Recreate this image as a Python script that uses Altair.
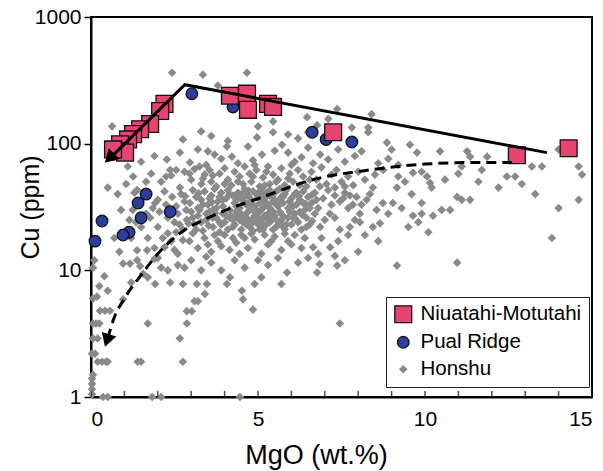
import altair as alt
import pandas as pd

# ---- data (MgO wt.%, Cu ppm) ----
niuatahi_mgo = [2.2, 2.07, 1.77, 1.47, 1.26, 1.11, 0.87, 0.81, 1.02, 0.66,
                4.16, 4.67, 4.70, 5.30, 5.45, 7.25, 12.75, 14.3]
niuatahi_cu = [206, 181, 143, 130, 119, 108, 99, 87, 85, 90,
               239, 248, 185, 206, 195, 123, 81, 92]

pual_mgo = [3.02, 4.25, 6.62, 7.04, 7.81, 1.65, 1.41, 1.50, 2.37, 0.33, 1.14, 0.96, 0.12]
pual_cu = [248, 195, 123, 108, 103, 40, 34, 26, 29, 24.5, 20, 19, 17]

honshu = [
    # outliers above the main cloud
    (2.43, 363), (3.35, 350), (4.67, 363), (3.8, 288), (0.63, 137), (5.0, 137),
    (5.45, 150), (5.45, 123), (4.97, 112), (6.47, 162), (6.5, 123), (7.1, 157),
    (7.37, 188), (7.81, 134), (8.3, 134), (8.4, 171), (8.3, 123), (6.77, 140),
    (2.75, 108), (3.6, 115), (4.1, 105), (5.9, 118), (6.2, 110), (3.3, 125),
    # 45-100 ppm
    (1.1, 66), (1.5, 72), (1.9, 80), (2.27, 75), (2.37, 62), (2.66, 85), (2.96, 71),
    (3.2, 90), (3.5, 87), (3.7, 82), (3.45, 68), (3.9, 76), (4.07, 95), (4.22, 79),
    (4.4, 70), (4.7, 95), (4.85, 74), (5.12, 82), (5.3, 66), (5.5, 88), (5.72, 98),
    (5.9, 85), (6.1, 72), (6.3, 78), (6.5, 93), (6.65, 70), (6.86, 82), (7.1, 75),
    (7.4, 90), (7.6, 72), (7.9, 80), (8.1, 87), (8.6, 70), (8.9, 76), (9.2, 68),
    (9.55, 98), (9.76, 85), (9.0, 90), (8.86, 102), (10.45, 87), (11.26, 87),
    (11.35, 79), (11.86, 79), (11.1, 66), (11.7, 62), (13.2, 66), (13.5, 66),
    (14.0, 90), (14.6, 66), (14.7, 57), (12.45, 55), (12.7, 55), (10.06, 55),
    (9.64, 59), (9.2, 55), (10.15, 49), (10.2, 45), (9.16, 45), (8.44, 45),
    (1.26, 55), (1.38, 43), (1.3, 41), (1.8, 58), (2.1, 50), (2.4, 56), (2.66, 45),
    (2.8, 60), (3.0, 52), (3.1, 63), (3.3, 48), (3.4, 57), (3.55, 62), (3.6, 50),
    (3.75, 46), (3.85, 58), (4.0, 64), (4.1, 52), (4.2, 47), (4.3, 60), (4.45, 55),
    (4.55, 48), (4.6, 66), (4.75, 58), (4.8, 50), (4.95, 62), (5.05, 46), (5.15, 54),
    (5.25, 60), (5.35, 48), (5.45, 57), (5.6, 52), (5.7, 64), (5.8, 47), (5.95, 58),
    (6.05, 50), (6.2, 62), (6.35, 55), (6.45, 46), (6.6, 60), (6.75, 52), (6.9, 65),
    (7.05, 48), (7.2, 57), (7.35, 62), (7.5, 50), (7.7, 55), (7.85, 47), (8.0, 60),
    (8.2, 52), (8.5, 57), (8.75, 62), (9.4, 50), (9.9, 60), (10.6, 52), (11.0, 58),
    (3.25, 66), (4.9, 68), (6.0, 68), (4.0, 48), (4.4, 50), (4.85, 55), (5.2, 47),
    (5.55, 50), (5.9, 53), (6.25, 47), (6.55, 52), (6.85, 46), (7.3, 45), (7.6, 46),
    (12.2, 45), (12.9, 48), (13.3, 40), (11.6, 50), (3.65, 56), (3.35, 53), (2.95, 58),
    (2.55, 62), (2.25, 55), (1.65, 50), (1.05, 48), (0.8, 40), (0.5, 45),
    # 30-45 ppm (dense)
    (1.6, 40), (1.92, 34), (2.0, 36), (2.2, 42), (2.43, 38), (2.55, 32), (2.7, 40),
    (2.8, 35), (2.96, 34), (3.05, 43), (3.15, 38), (3.2, 31), (3.3, 36), (3.4, 42),
    (3.5, 33), (3.6, 39), (3.65, 30), (3.7, 44), (3.8, 35), (3.9, 41), (3.95, 32),
    (4.05, 37), (4.1, 43), (4.15, 30), (4.25, 39), (4.3, 34), (4.4, 41), (4.45, 31),
    (4.5, 37), (4.6, 44), (4.65, 33), (4.7, 39), (4.75, 30), (4.8, 36), (4.85, 42),
    (4.9, 32), (5.0, 38), (5.05, 34), (5.1, 44), (5.15, 31), (5.2, 37), (5.25, 41),
    (5.3, 33), (5.35, 39), (5.4, 30), (5.5, 36), (5.55, 42), (5.6, 32), (5.7, 38),
    (5.75, 34), (5.85, 43), (5.9, 31), (6.0, 37), (6.1, 40), (6.15, 33), (6.25, 36),
    (6.35, 42), (6.4, 30), (6.5, 38), (6.6, 34), (6.7, 41), (6.8, 31), (6.95, 37),
    (7.1, 43), (7.2, 33), (7.3, 39), (7.45, 35), (7.6, 41), (7.84, 33), (7.7, 31),
    (7.95, 38), (8.05, 28), (8.25, 36), (8.74, 34), (9.04, 34), (9.9, 34), (9.6, 40),
    (10.96, 38), (11.1, 36), (11.35, 36), (14.0, 31), (14.6, 36), (4.55, 35), (4.95, 40),
    (5.45, 35), (5.8, 40), (4.35, 36), (3.85, 38), (5.65, 44), (6.05, 32),
    (3.35, 33), (3.55, 37), (3.75, 31), (3.95, 36), (4.15, 40), (4.35, 32), (4.55, 41),
    (4.75, 35), (4.95, 30), (5.15, 36), (5.35, 43), (5.55, 33), (5.75, 38), (5.95, 35),
    (6.15, 41), (6.35, 34), (6.55, 31), (6.75, 36), (2.25, 33), (1.85, 31), (1.45, 34),
    (1.25, 30), (7.55, 37), (7.75, 39), (8.1, 33), (8.35, 40), (8.55, 30), (9.3, 31),
    (0.9, 30), (4.62, 38.5), (4.82, 33.5), (5.02, 41), (5.22, 34.5), (5.42, 38.5),
    (5.62, 35.5), (5.12, 39.5), (4.72, 42.5), (5.32, 31.5), (4.42, 38.5), (3.62, 34.5),
    (3.22, 40.5), (2.82, 38.5), (6.22, 38.5), (6.42, 33.5), (6.62, 39.5),
    # 20-30 ppm (dense)
    (1.5, 22), (1.77, 26), (2.0, 22), (2.3, 26), (2.3, 19.6), (2.5, 24), (2.6, 28),
    (2.75, 21), (2.87, 25), (3.0, 29), (3.1, 23), (3.2, 27), (3.35, 20.5), (3.45, 25),
    (3.55, 29), (3.65, 22), (3.75, 26), (3.85, 20), (3.95, 28), (4.0, 24), (4.1, 21),
    (4.2, 27), (4.3, 23), (4.35, 29), (4.45, 25), (4.5, 21), (4.6, 27), (4.65, 23),
    (4.7, 29), (4.8, 25), (4.85, 20.5), (4.9, 27), (5.0, 23), (5.05, 29), (5.1, 25),
    (5.15, 21), (5.2, 27), (5.25, 23), (5.3, 28), (5.4, 25), (5.45, 21), (5.5, 27),
    (5.6, 23), (5.65, 29), (5.7, 25), (5.8, 21), (5.9, 26), (6.0, 23), (6.1, 28),
    (6.2, 24), (6.3, 21), (6.45, 26), (6.55, 23), (6.7, 28), (6.86, 22), (7.0, 25),
    (7.15, 28), (7.45, 21), (7.75, 22), (7.9, 25), (8.05, 24), (8.44, 22), (8.65, 23.5),
    (9.64, 27), (10.24, 27), (10.5, 30), (10.75, 30), (9.9, 28), (4.95, 26), (5.35, 24),
    (4.55, 24), (5.75, 27), (4.25, 25), (5.55, 22), (4.75, 22), (5.95, 29), (4.15, 26),
    (3.3, 24), (3.9, 23), (4.05, 27), (4.25, 22), (4.45, 28), (4.65, 26), (4.85, 24),
    (5.05, 21), (5.25, 26), (5.45, 29), (5.65, 24), (5.85, 23), (6.05, 26), (6.25, 29),
    (6.45, 22), (3.45, 28), (3.65, 26), (3.85, 24), (3.25, 30), (3.05, 26), (2.85, 30),
    (2.65, 23), (2.45, 29), (2.05, 29), (1.65, 28), (1.15, 25), (1.35, 24), (8.9, 28),
    (9.5, 22), (9.8, 24), (4.92, 28.5), (5.12, 23.5), (5.32, 27.5), (5.52, 25.5),
    (4.72, 24.5), (4.52, 27.5), (5.72, 22.5), (5.02, 25.5), (4.32, 26.5), (3.72, 28.5),
    (3.52, 22.5), (2.92, 23.5), (6.12, 25.5), (6.32, 27.5), (6.62, 24.5), (7.3, 26),
    # 13-20 ppm
    (1.2, 18), (1.38, 14.4), (1.68, 14.4), (1.7, 18), (1.9, 15), (2.2, 15.2), (2.4, 17),
    (2.6, 13.5), (2.75, 17.3), (3.05, 19.6), (3.2, 15), (3.4, 18), (3.6, 14), (3.8, 17),
    (4.0, 19), (4.15, 14.5), (4.35, 16.5), (4.5, 19), (4.7, 15), (4.9, 17.5), (5.1, 13.5),
    (5.3, 16), (5.5, 18.5), (5.7, 14.5), (5.9, 17), (6.1, 19), (6.3, 15), (6.65, 15.2),
    (6.9, 18), (7.16, 15.2), (7.4, 17), (7.7, 19), (8.0, 14), (13.8, 18), (4.6, 18),
    (5.2, 19), (3.9, 15.5), (2.15, 18), (2.55, 20), (2.95, 17), (3.15, 21), (3.5, 16),
    (3.7, 19), (4.25, 18), (4.8, 19.5), (5.4, 17), (5.8, 19.5), (6.0, 16), (6.4, 18),
    (6.8, 13.5), (7.3, 13), (2.5, 14.5), (8.2, 19), (8.6, 17), (10.1, 20), (0.7, 18),
    (0.85, 14),
    # 8-13 ppm
    (0.96, 11.3), (1.17, 11.3), (1.38, 12), (1.47, 10.8), (1.56, 9.4), (1.7, 8.8),
    (1.92, 7.8), (2.0, 12.5), (2.1, 10.5), (2.3, 10), (2.37, 8), (2.75, 7.8), (2.6, 11),
    (3.0, 12), (3.17, 7.8), (3.3, 10), (3.47, 7.8), (3.6, 11.5), (3.9, 10), (4.07, 7.8),
    (4.16, 8.8), (4.3, 12), (4.6, 10.5), (4.9, 7.8), (5.1, 8.8), (5.3, 11), (5.7, 7.8),
    (5.87, 9.6), (6.2, 11.5), (6.5, 12.5), (6.77, 9.6), (6.85, 11.2), (7.37, 10.9),
    (7.6, 12), (9.16, 10.9), (10.96, 11.5), (0.06, 10.5), (0.1, 12), (1.9, 12.3),
    (2.8, 10.5), (3.45, 12.8), (4.45, 13.5), (5.0, 12), (5.6, 12.5), (0.4, 9),
    (0.25, 7.5), (1.2, 8),
    # below 8 ppm
    (0.06, 6.0), (0.18, 6.2), (0.5, 6.9), (0.96, 5.9), (0.27, 4.8), (0.42, 4.8),
    (0.57, 4.8), (0.15, 3.8), (0.25, 3.8), (0.06, 3.8), (1.7, 3.8), (2.87, 3.8),
    (2.87, 4.76), (3.02, 4.76), (3.2, 5.7), (3.1, 5.7), (3.41, 6.5), (4.52, 6.9),
    (4.55, 5.9), (4.85, 4.9), (7.45, 3.8), (2.66, 2.9), (0.2, 2.9), (0.06, 2.9),
    (0.03, 2.2), (0.12, 2.2), (0.2, 1.9), (0.33, 1.9), (0.45, 1.9), (0.5, 1.9),
    (1.4, 1.9), (1.5, 1.9), (2.75, 1.9), (0.03, 1.4), (0.03, 1.27), (0.06, 1.5),
    (0.03, 1.15), (0.36, 1.0), (0.5, 1.0), (1.83, 1.0), (2.1, 1.0), (4.46, 1.0),
    (0.03, 1.05),
]

# trend lines (vertices)
solid_mgo = [0.62, 2.81, 13.65]
solid_cu = [79, 292, 85]
dash_mgo = [0.5, 0.66, 1.02, 1.53, 2.0, 2.66, 3.65, 5.15, 6.65, 8.44, 10.0, 11.5, 12.6]
dash_cu = [2.9, 4.0, 6.1, 9.4, 13.5, 19.6, 27, 38, 52, 62.5, 69, 71, 71]
arrow_mgo = [0.6, 0.5]
arrow_cu = [79, 2.9]
arrow_angle = [225, 198]

x_ticks = list(range(0, 16))
x_labels = [0, 5, 10, 15]
y_labels = [1, 10, 100, 1000]

series = ["Niuatahi-Motutahi", "Pual Ridge", "Honshu"]
colors = ["#e9436f", "#2b3d9d", "#8a8a8a"]
shapes = ["square", "circle", "diamond"]
sizes = [285, 135, 46]
strokes = ["#111111", "#111111", "#8a8a8a"]

# ---- build tables ----
rows = [{"MgO": x, "Cu": y, "series": "Honshu"} for x, y in honshu]
rows += [{"MgO": x, "Cu": y, "series": "Pual Ridge"} for x, y in zip(pual_mgo, pual_cu)]
rows += [{"MgO": x, "Cu": y, "series": "Niuatahi-Motutahi"} for x, y in zip(niuatahi_mgo, niuatahi_cu)]
pts = pd.DataFrame(rows)

solid = pd.DataFrame({"MgO": solid_mgo, "Cu": solid_cu})
dash = pd.DataFrame({"MgO": dash_mgo, "Cu": dash_cu})
arrows = pd.DataFrame({"MgO": arrow_mgo, "Cu": arrow_cu, "angle": arrow_angle})
ticks = pd.DataFrame({"MgO": x_ticks})

xscale = alt.Scale(domain=[0, 15], nice=False, zero=False)
yscale = alt.Scale(type="log", domain=[1, 1000], nice=False)

xenc = alt.X("MgO:Q", scale=xscale,
             axis=alt.Axis(title="MgO (wt.%)", values=x_labels, ticks=False, grid=False,
                           labelPadding=11, titleFontSize=27, titleY=58, titleX=225,
                           titleAlign="center", titleBaseline="middle", format="d"))
yenc = alt.Y("Cu:Q", scale=yscale,
             axis=alt.Axis(title="Cu (ppm)", values=y_labels, grid=False, tickSize=7,
                           tickWidth=1.5, labelPadding=3, titleFontSize=25, titleX=-61,
                           titleBaseline="middle", format="d"))

leg = alt.Legend(title=None, orient="none", legendX=295, legendY=280)

points = alt.Chart(pts).mark_point(filled=True, opacity=1, strokeWidth=1.3).encode(
    x=xenc,
    y=yenc,
    color=alt.Color("series:N", scale=alt.Scale(domain=series, range=colors), legend=leg),
    shape=alt.Shape("series:N", scale=alt.Scale(domain=series, range=shapes), legend=leg),
    size=alt.Size("series:N", scale=alt.Scale(type="ordinal", domain=series, range=sizes),
                  legend=leg),
    stroke=alt.Stroke("series:N", scale=alt.Scale(domain=series, range=strokes), legend=leg),
)

solid_line = alt.Chart(solid).mark_line(color="black", strokeWidth=3).encode(
    x=alt.X("MgO:Q", scale=xscale), y=alt.Y("Cu:Q", scale=yscale))

dash_line = alt.Chart(dash).mark_line(color="black", strokeWidth=3, strokeDash=[10, 6],
                                       interpolate="monotone").encode(
    x=alt.X("MgO:Q", scale=xscale), y=alt.Y("Cu:Q", scale=yscale))

heads = alt.Chart(arrows).mark_point(shape="triangle", filled=True, color="black",
                                     size=230, opacity=1).encode(
    x=alt.X("MgO:Q", scale=xscale), y=alt.Y("Cu:Q", scale=yscale),
    angle=alt.Angle("angle:Q", scale=None))

xticks = alt.Chart(ticks).mark_tick(orient="vertical", color="black", size=12,
                                    thickness=1.5, clip=True).encode(
    x=alt.X("MgO:Q", scale=xscale), y=alt.datum(1))

chart = alt.layer(points, solid_line, dash_line, heads, xticks).properties(
    width=501, height=380,
    autosize=alt.AutoSizeParams(type="none"),
    padding={"left": 91, "top": 17, "right": 11, "bottom": 74},
).configure_view(
    stroke="black", strokeWidth=2
).configure_axis(
    labelFont="Liberation Sans", titleFont="Liberation Sans",
    labelFontSize=21, labelColor="black", titleColor="black",
    titleFontWeight="normal", domainColor="black", domainWidth=2, tickColor="black"
).configure_legend(
    labelFont="Liberation Sans", labelFontSize=20.5, labelColor="black",
    strokeColor="#222222", fillColor="white", padding=7, rowPadding=6,
    labelOffset=7, symbolStrokeWidth=1.3, cornerRadius=0, labelLimit=300
)

chart.save("out.html", embed_options={"renderer": "svg", "actions": False})
